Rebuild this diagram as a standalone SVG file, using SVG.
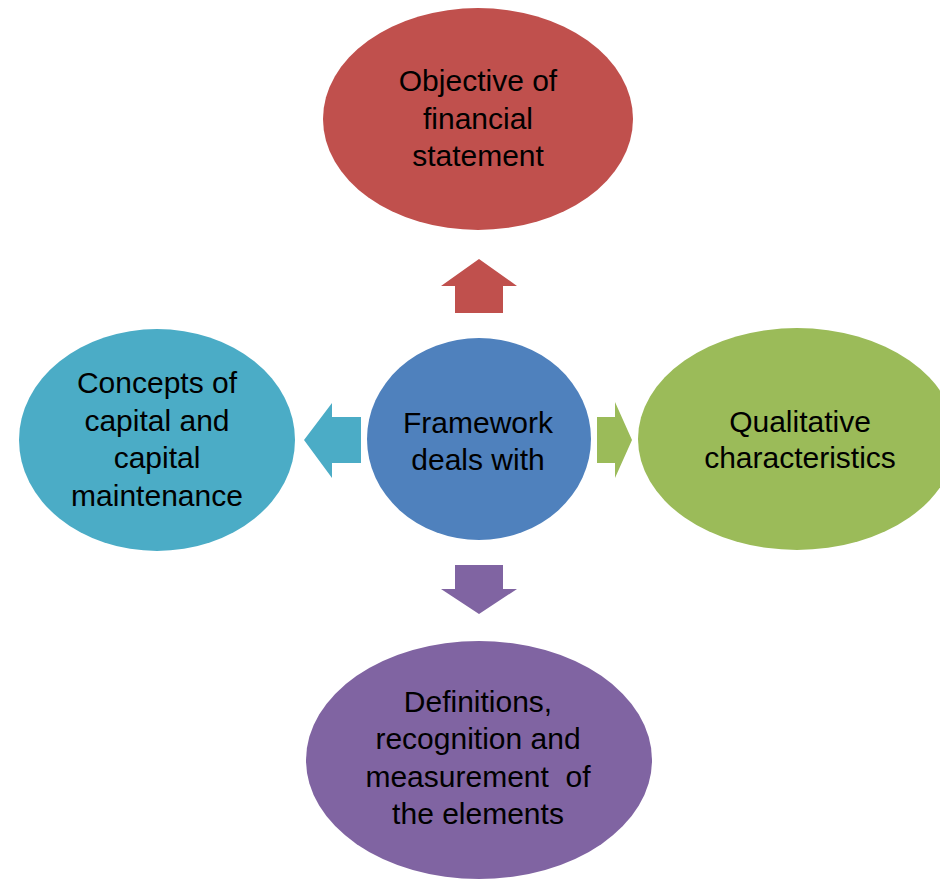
<svg xmlns="http://www.w3.org/2000/svg" width="940" height="882" viewBox="0 0 940 882">
  <style>
    .lbl { font-family: "Liberation Sans", Arial, sans-serif; font-size: 30px; fill: #000; text-anchor: middle; white-space: pre; }
  </style>
  <rect width="940" height="882" fill="#ffffff"/>

  <!-- block arrows pointing out from the centre -->
  <g id="connectors">
    <polygon fill="#C0504D" points="455,313 455,286 441,286 479,259 517,286 503,286 503,313"/>
    <polygon fill="#4BACC6" points="361,417 332,417 332,403 304,440 332,478 332,463 361,463"/>
    <polygon fill="#9BBB59" points="597,417 615,417 615,402 632,440 615,478 615,463 597,463"/>
    <polygon fill="#8064A2" points="455,565 503,565 503,589 517,589 479,614 441,589 455,589"/>
  </g>

  <g id="objective">
    <ellipse cx="478" cy="119" rx="155" ry="111" fill="#C0504D"/>
    <text class="lbl" x="478" y="91">Objective of</text>
    <text class="lbl" x="478" y="129">financial</text>
    <text class="lbl" x="478" y="166">statement</text>
  </g>

  <g id="capital">
    <ellipse cx="157" cy="440" rx="138" ry="111" fill="#4BACC6"/>
    <text class="lbl" x="157" y="393">Concepts of</text>
    <text class="lbl" x="157" y="431">capital and</text>
    <text class="lbl" x="157" y="468">capital</text>
    <text class="lbl" x="157" y="506">maintenance</text>
  </g>

  <g id="framework">
    <ellipse cx="479" cy="439" rx="112" ry="101" fill="#4F81BD"/>
    <text class="lbl" x="478" y="433">Framework</text>
    <text class="lbl" x="478" y="470">deals with</text>
  </g>

  <g id="qualitative">
    <ellipse cx="797" cy="439" rx="159" ry="111" fill="#9BBB59"/>
    <text class="lbl" x="800" y="432">Qualitative</text>
    <text class="lbl" x="800" y="468">characteristics</text>
  </g>

  <g id="definitions">
    <ellipse cx="479" cy="760" rx="173" ry="119" fill="#8064A2"/>
    <text class="lbl" x="478" y="712">Definitions,</text>
    <text class="lbl" x="478" y="749">recognition and</text>
    <text class="lbl" x="478" y="787">measurement  of</text>
    <text class="lbl" x="478" y="824">the elements</text>
  </g>
</svg>
